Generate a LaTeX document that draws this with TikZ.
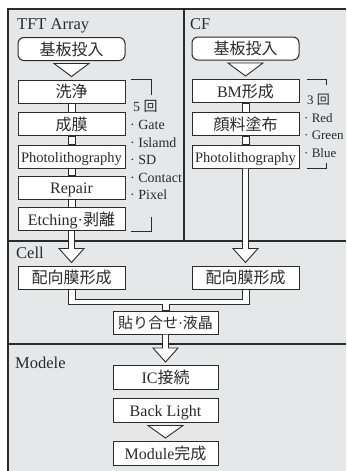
\documentclass[tikz,border=0pt]{standalone}
\usepackage{fontspec}
\setmainfont{Liberation Serif}
\newfontfamily\cjk{Noto Sans CJK JP}
\usetikzlibrary{calc}
\definecolor{bg}{HTML}{E6E7E9}
\definecolor{ln}{HTML}{2A2A2A}
\tikzset{
  box/.style={draw=ln, fill=white, line width=1pt, minimum height=23pt,
    inner sep=0pt, text height=12pt, text depth=0pt, text=ln,
    font=\fontsize{16}{18}\selectfont},
  boxL/.style={box, minimum width=107pt},
  frame/.style={draw=ln, line width=1.2pt},
  pipe/.style={draw=ln, fill=white, line width=0.9pt},
  brk/.style={draw=ln, line width=0.9pt},
  title/.style={anchor=base west, inner sep=0pt, text=ln, font=\fontsize{16.5}{18}\selectfont},
  lbl/.style={anchor=base west, inner sep=0pt, text=ln, font=\fontsize{14}{16}\selectfont},
  lblR/.style={lbl, font=\fontsize{13}{15}\selectfont},
}
\newcommand\tubelink[2]{\path[pipe] ($(#1.south)+(-3.5,0)$) rectangle ($(#2.north)+(3.5,0)$);}
\newcommand\hollowarrow[2]{\path[pipe] ($(#1.south)+(-3,0)$) -- ($(#2.north)+(-3,-17)$) -- ($(#2.north)+(-12.5,-17)$) -- ($(#2.north)+(0,-3)$) -- ($(#2.north)+(12.5,-17)$) -- ($(#2.north)+(3,-17)$) -- ($(#1.south)+(3,0)$);}
\newcommand\chevron[2]{\path[pipe] ($(#1.south)+(-17.5,2.5)$) -- ($(#1.south)+(17.5,2.5)$) -- ($(#2.north)+(0,-3)$) -- cycle;}
\begin{document}
\begin{tikzpicture}[x=1pt,y=-1pt]
\useasboundingbox (0,0) rectangle (346,471);
\fill[bg] (8,9) rectangle (346,471);
\draw[frame] (346,9) -- (8,9) -- (8,471);
\draw[frame] (184,9) -- (184,241);
\draw[frame] (8,241) -- (346,241);
\draw[frame] (8,344) -- (346,344);

% titles
\node[title] (tTFT) at (17,29) {TFT Array};
\node[title] (tCF) at (190,29) {CF};
\node[title] (tCell) at (16,258) {Cell};
\node[title] (tMod) at (15,368) {Modele};

% TFT column
\node[boxL, rounded corners=6pt] (kibanL) at (71.5,49) {\cjk 基板投入};
\node[boxL] (senjo) at (71.5,91.5) {\cjk 洗浄};
\node[boxL] (seimaku) at (71.5,124) {\cjk 成膜};
\node[boxL, font=\fontsize{14.5}{16}\selectfont] (photoL) at (71.5,156.5) {Photolithography};
\node[boxL] (repair) at (71.5,187.5) {Repair};
\node[boxL] (etch) at (71.5,219) {Etching·{\cjk 剥離}};

% CF column
\node[boxL, rounded corners=6pt] (kibanR) at (245.5,48.5) {\cjk 基板投入};
\node[boxL] (bm) at (245.5,91) {BM{\cjk 形成}};
\node[boxL] (ganryo) at (245.5,124) {\cjk 顔料塗布};
\node[boxL, font=\fontsize{14.5}{16}\selectfont] (photoR) at (245.5,156.5) {Photolithography};

% Cell
\node[boxL] (haikoL) at (71.5,277.5) {\cjk 配向膜形成};
\node[boxL] (haikoR) at (245.5,277.5) {\cjk 配向膜形成};
\node[box, minimum width=105pt, font=\fontsize{15}{17}\selectfont] (hari) at (165.5,322.5) {{\cjk 貼り合せ}·{\cjk 液晶}};

% Module
\node[box, minimum width=105pt, minimum height=24pt] (ic) at (165.5,377.5) {IC{\cjk 接続}};
\node[box, minimum width=105pt, minimum height=24pt] (bl) at (165.5,410.5) {Back Light};
\node[box, minimum width=105pt, minimum height=24pt] (done) at (165.5,453.5) {Module{\cjk 完成}};

% connectors
\chevron{kibanL}{senjo}
\tubelink{senjo}{seimaku}
\tubelink{seimaku}{photoL}
\tubelink{photoL}{repair}
\tubelink{repair}{etch}
\chevron{kibanR}{bm}
\tubelink{bm}{ganryo}
\tubelink{ganryo}{photoR}
\hollowarrow{etch}{haikoL}
\hollowarrow{photoR}{haikoR}
\path[pipe] ($(haikoL.south)+(-3.5,0)$) |- ($(hari.north)+(-3.5,-6)$) -- ($(hari.north)+(-3.5,0)$)
  -- ($(hari.north)+(3.5,0)$) -- ($(hari.north)+(3.5,-6)$) -| ($(haikoR.south)+(3.5,0)$)
  -- ($(haikoR.south)+(-3.5,0)$) |- ($(haikoL.south)+(3.5,10)$) -- ($(haikoL.south)+(3.5,0)$) -- cycle;
\hollowarrow{hari}{ic}
\chevron{bl}{done}

% brackets
\draw[brk] ($(senjo.north east)+(5,0)$) -- ++(21,0) -- ++(0,15);
\draw[brk] ($(etch.south east)+(5,0)$) -- ++(21,0) -- ++(0,-14);
\draw[brk] ($(bm.north east)+(7,0)$) -- ++(20,0) -- ++(0,6);
\draw[brk] ($(photoR.south east)+(7,0)$) -- ++(20,0) -- ++(0,-6);

% labels
\node[lbl] (n5) at (133,111) {5 {\cjk 回}};
\node[lbl] (lg) at (130,129.5) {· Gate};
\node[lbl] (li) at (130,147) {· Islamd};
\node[lbl] (ls) at (130,164.5) {· SD};
\node[lbl] (lc) at (130,182) {· Contact};
\node[lbl] (lp) at (130,199.5) {· Pixel};
\node[lblR] (n3) at (307,104) {3 {\cjk 回}};
\node[lblR] (lr) at (304,122) {· Red};
\node[lblR] (lgr) at (304,139.5) {· Green};
\node[lblR] (lb) at (304,157) {· Blue};
\end{tikzpicture}
\end{document}
